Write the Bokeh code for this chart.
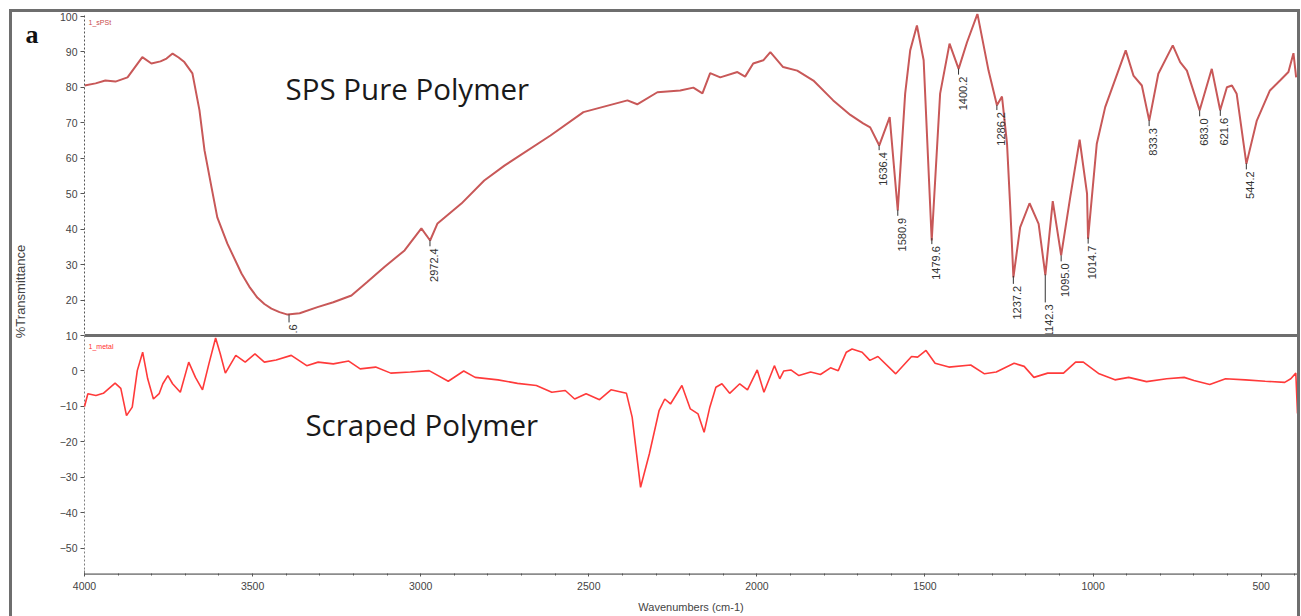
import numpy as np
from bokeh.plotting import figure
from bokeh.layouts import row
from bokeh.models import Range1d, SingleIntervalTicker, Span, Label, BoxAnnotation
from bokeh.core.properties import value
from bokeh.embed import file_html
from bokeh.resources import INLINE

# ---- data: upper spectrum (SPS pure polymer) ----
top_wn = [4000, 3967, 3938, 3908, 3872, 3828, 3801, 3774, 3756, 3738, 3720, 3703, 3679, 3658,
          3643, 3622, 3605, 3575, 3533, 3510, 3486, 3465, 3444, 3420, 3396, 3360, 3307, 3260,
          3206, 3160, 3108, 3048, 2998, 2972,
          2950, 2879, 2811, 2751, 2614, 2516, 2385, 2356, 2296, 2228, 2189, 2162, 2139, 2109,
          2058, 2035, 2011, 1981, 1960, 1922, 1880, 1832, 1773, 1722, 1684, 1663, 1636, 1605,
          1581, 1559, 1544, 1524, 1504, 1480, 1455, 1427, 1400, 1375, 1344, 1311, 1286, 1271,
          1256, 1246, 1237, 1217, 1189, 1162, 1142, 1120, 1095, 1068, 1040, 1018, 1015, 989,
          964, 903, 880, 855, 833, 806, 763, 741, 721, 683, 647, 622, 602, 587, 573, 544, 513,
          474, 444, 419, 404, 396]
top_val = [80.5, 81.1, 81.9, 81.6, 82.8, 88.5, 86.7, 87.3, 88.1, 89.5, 88.4, 87.1, 83.9, 73.5,
           62.2, 51.7, 43.3, 35.9, 27.5, 23.8, 20.7, 18.9, 17.6, 16.6, 15.9, 16.3, 18.0, 19.4,
           21.3, 25.0, 29.3, 34.0, 40.2, 36.8,
           41.6, 47.2, 53.7, 57.9, 66.4, 73.0, 76.3, 75.2, 78.6, 79.1, 79.9, 78.3, 84.0, 82.8,
           84.3, 83.0, 86.7, 87.6, 89.9, 85.7, 84.7, 81.9, 76.3, 72.2, 69.8, 68.7, 63.6, 71.6,
           45.3, 78.2, 90.4, 97.4, 87.6, 36.8, 78.2, 92.3, 85.2, 92.7, 100.7, 84.7, 74.9, 77.4,
           64.1, 45.3, 26.4, 40.5, 47.3, 41.5, 27.0, 47.9, 32.6, 49.0, 65.2, 50.0, 37.3, 64.1,
           74.4, 90.4, 83.3, 80.5, 70.6, 83.8, 91.8, 87.1, 84.7, 73.5, 85.2, 73.5, 80.0, 80.5,
           78.2, 58.4, 70.6, 79.1, 81.9, 84.3, 89.6, 82.8]

# ---- data: lower spectrum (scraped polymer) ----
bot_wn = [4000, 3990, 3966, 3944, 3909, 3892, 3875, 3858, 3843, 3827, 3812, 3795, 3778, 3767,
          3752, 3738, 3715, 3690, 3670, 3649, 3630, 3610, 3596, 3581, 3550, 3522, 3493, 3465,
          3430, 3385, 3339, 3305, 3260, 3214, 3180, 3134, 3089, 3031, 2975, 2918, 2872, 2838,
          2770, 2712, 2656, 2610, 2570, 2542, 2508, 2468, 2434, 2388, 2371, 2346, 2320, 2291,
          2274, 2257, 2223, 2198, 2175, 2157, 2140, 2122, 2104, 2081, 2051, 2028, 1999, 1979,
          1948, 1932, 1920, 1899, 1875, 1840, 1811, 1781, 1758, 1734, 1717, 1687, 1664, 1640,
          1587, 1540, 1522, 1497, 1470, 1429, 1364, 1323, 1288, 1235, 1205, 1176, 1135, 1088,
          1052, 1029, 982, 935, 894, 841, 781, 729, 700, 653, 606, 547, 488, 430, 412, 397, 392]
bot_val = [-10.0, -6.4, -6.9, -6.3, -3.4, -4.9, -12.6, -10.2, 0.1, 5.3, -2.2, -7.9, -6.4, -3.6,
           -1.3, -3.6, -6.0, 2.5, -1.8, -5.3, 2.0, 9.3, 4.8, -0.6, 4.4, 2.5, 4.8, 2.5,
           3.1, 4.4, 1.5, 2.5, 2.0, 2.8, 0.6, 1.1, -0.6, -0.3, 0.1, -2.9, 0.0, -1.8,
           -2.5, -3.5, -4.1, -6.0, -5.5, -7.9, -6.4, -8.1, -5.3, -6.3, -13.0, -32.8, -23.4, -11.2,
           -7.9, -9.3, -4.1, -10.7, -12.1, -17.3, -10.2, -4.6, -3.6, -6.3, -3.6, -5.3, 0.3, -6.0,
           1.5, -2.2, 0.0, 0.3, -1.3, -0.3, -1.0, 0.9, 0.1, 5.3, 6.2, 5.3, 3.0, 4.1,
           -0.8, 4.1, 3.9, 5.8, 2.2, 1.1, 1.7, -0.8, -0.3, 2.2, 1.3, -1.8, -0.6, -0.6,
           2.5, 2.5, -0.8, -2.5, -1.8, -3.0, -2.2, -1.8, -2.7, -3.8, -2.2, -2.5, -2.9, -3.2, -2.2, -0.6, -12.0]

# ---- peak labels on the upper spectrum ----
peak_wn = [3391.6, 2972.4, 1636.4, 1580.9, 1479.6, 1400.2, 1286.2, 1237.2, 1142.3, 1095.0,
           1014.7, 833.3, 683.0, 621.6, 544.2]
peak_lbl = ["3391.6", "2972.4", "1636.4", "1580.9", "1479.6", "1400.2", "1286.2", "1237.2",
            "1142.3", "1095.0", "1014.7", "833.3", "683.0", "621.6", "544.2"]
leader_px = [8, 6, 5, 6, 6, 6, 5, 8, 28, 6, 6, 6, 6, 6, 6]

panel_names = ["1_sPSt", "1_metal"]
panel_titles = ["SPS Pure Polymer", "Scraped Polymer"]
y_label = "%Transmittance"
x_label = "Wavenumbers (cm-1)"
fig_letter = "a"

X_START, X_END = 4000, 392
Y_BOT, Y_TOP = -57.1, 100.8
SPLIT = 10

H = 604
SIDE_W = 44

# ---- side strip holding the panel letter and the y-axis title ----
side = figure(width=SIDE_W, height=H, x_range=Range1d(0, 1), y_range=Range1d(0, 1),
              output_backend="svg", toolbar_location=None, title=None,
              x_axis_type=None, y_axis_type=None, min_border=0)
side.outline_line_color = None
side.xgrid.visible = False
side.ygrid.visible = False
side.add_layout(Label(x=13, y=H - 65, x_units="screen", y_units="screen", text=fig_letter,
                      text_font="Liberation Serif", text_font_style="bold",
                      text_font_size="26px", text_color="#111111", text_baseline="alphabetic"))
side.add_layout(Label(x=8, y=H - 322, x_units="screen", y_units="screen", text=y_label,
                      angle=np.pi / 2, text_align="center", text_baseline="middle",
                      text_font="Liberation Sans", text_font_size="13px",
                      text_color="#444444"))

# ---- main spectrum plot ----
p = figure(width=1241, height=H,
           x_range=Range1d(X_START, X_END), y_range=Range1d(Y_BOT, Y_TOP),
           output_backend="svg", toolbar_location=None, title=None,
           min_border_left=26, min_border_right=0, min_border_top=1, min_border_bottom=43,
           x_axis_label=x_label)
p.outline_line_color = None
p.xgrid.visible = False
p.ygrid.visible = False
p.background_fill_color = "white"
p.border_fill_color = "white"

p.xaxis.ticker = SingleIntervalTicker(interval=500, num_minor_ticks=5)
p.xaxis.axis_line_color = "#8c8c8c"
p.xaxis.axis_line_width = 3
p.xaxis.major_tick_in = 3
p.xaxis.major_tick_out = 3
p.xaxis.minor_tick_in = 2
p.xaxis.minor_tick_out = 2
p.xaxis.major_tick_line_color = "#555555"
p.xaxis.minor_tick_line_color = "#555555"
p.xaxis.major_label_standoff = 5
p.xaxis.axis_label_standoff = 8

p.yaxis.ticker = SingleIntervalTicker(interval=10, num_minor_ticks=0)
p.yaxis.axis_line_dash = "2 2"
p.yaxis.axis_line_color = "#555555"
p.yaxis.major_tick_in = 0
p.yaxis.major_tick_out = 4
p.yaxis.major_tick_line_color = "#555555"
p.yaxis.minor_tick_line_color = None
p.yaxis.major_label_standoff = 3

for ax in (p.xaxis, p.yaxis):
    ax.major_label_text_font = "Liberation Sans"
    ax.major_label_text_font_size = "10.5px"
    ax.major_label_text_color = "#444444"
    ax.axis_label_text_font = "Liberation Sans"
    ax.axis_label_text_font_size = "11px"
    ax.axis_label_text_font_style = "normal"
    ax.axis_label_text_color = "#444444"

# upper spectrum
p.line(top_wn, top_val, line_color="#c85858", line_width=2)

# peak labels
order = np.argsort(top_wn)
peak_y = np.interp(peak_wn, np.array(top_wn)[order], np.array(top_val)[order])
p.ray(x=peak_wn, y=list(peak_y), length=leader_px, length_units="screen",
      angle=-np.pi / 2, line_color="#333333", line_width=1)
p.text(x=peak_wn, y=list(peak_y), text=peak_lbl, angle=np.pi / 2,
       text_align="right", text_baseline="middle", x_offset=4,
       y_offset=[lp + 2 for lp in leader_px],
       text_font=value("Liberation Sans"), text_font_size="11px", text_color="#333333")

# mask for the lower panel (clips labels that run past the panel border)
p.add_layout(BoxAnnotation(top=SPLIT, fill_color="white", fill_alpha=1.0, line_color=None))

# lower spectrum
p.line(bot_wn, bot_val, line_color="#ff3a3a", line_width=1.6, level="overlay")

# panel divider
p.add_layout(Span(location=SPLIT, dimension="width", line_color="#6e6e6e", line_width=3,
                  level="overlay"))

# panel texts
p.add_layout(Label(x=3402, y=79.7, text=panel_titles[0], text_font="Open Sans",
                   text_font_size="29.5px", text_color="#1a1a1a", text_baseline="alphabetic",
                   level="overlay"))
p.add_layout(Label(x=3343, y=-15.1, text=panel_titles[1], text_font="Open Sans",
                   text_font_size="29.5px", text_color="#1a1a1a", text_baseline="alphabetic",
                   level="overlay"))
p.add_layout(Label(x=3988, y=98.3, text=panel_names[0], text_font="Liberation Sans",
                   text_font_size="7px", text_color="#c84a4a", text_baseline="middle",
                   level="overlay"))
p.add_layout(Label(x=3988, y=6.9, text=panel_names[1], text_font="Liberation Sans",
                   text_font_size="7px", text_color="#ff3030", text_baseline="middle",
                   level="overlay"))

layout = row(side, p, spacing=0,
             styles={"margin-left": "9px", "margin-top": "9px",
                     "border-left": "3px solid #6e6e6e", "border-top": "3px solid #6e6e6e",
                     "border-right": "3px solid #6e6e6e"})

open("out.html", "w").write(file_html(layout, INLINE))
